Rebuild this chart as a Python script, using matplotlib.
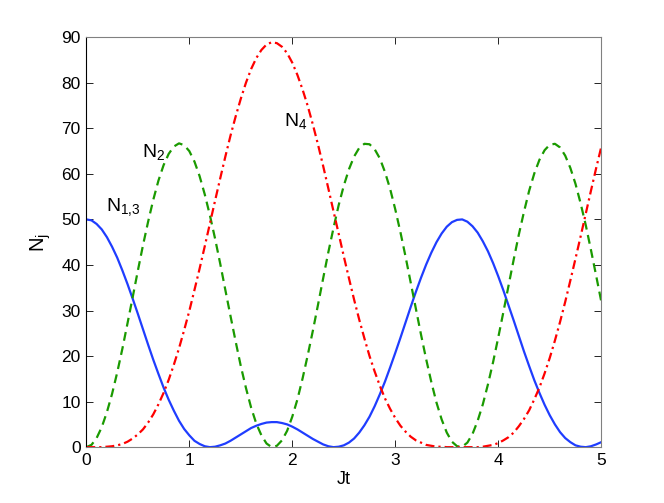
import matplotlib
matplotlib.use("Agg")
import matplotlib.pyplot as plt

plt.rcParams['font.family'] = ['Liberation Sans', 'DejaVu Sans']
plt.rcParams['mathtext.fontset'] = 'custom'
plt.rcParams['mathtext.rm'] = 'Liberation Sans'
plt.rcParams['mathtext.it'] = 'Liberation Sans'

# Jt, step 0.05 from 0 to 5
jt = [round(0.05 * i, 2) for i in range(101)]

n13 = [50.0, 49.8, 49.0, 47.8, 46.1, 44.0, 41.6, 38.8, 35.8, 32.6,
       29.3, 25.9, 22.5, 19.2, 16.1, 13.1, 10.4, 8.0, 5.8, 4.0,
       2.6, 1.4, 0.7, 0.2, 0.0, 0.1, 0.4, 0.8, 1.4, 2.1,
       2.8, 3.5, 4.2, 4.7, 5.1, 5.4, 5.5, 5.5, 5.3, 5.0,
       4.5, 3.9, 3.2, 2.5, 1.8, 1.2, 0.6, 0.2, 0.0, 0.1,
       0.4, 1.0, 1.9, 3.2, 4.8, 6.7, 9.0, 11.6, 14.4, 17.5,
       20.7, 24.0, 27.4, 30.8, 34.1, 37.2, 40.1, 42.7, 45.0, 46.9,
       48.4, 49.4, 49.9, 50.0, 49.5, 48.5, 47.1, 45.2, 43.0, 40.4,
       37.5, 34.4, 31.1, 27.8, 24.4, 21.0, 17.8, 14.7, 11.9, 9.3,
       7.0, 5.0, 3.3, 2.0, 1.1, 0.4, 0.1, 0.0, 0.2, 0.6,
       1.1]

n2 = [0.0, 0.5, 2.0, 4.4, 7.7, 11.7, 16.4, 21.6, 27.2, 32.9,
      38.7, 44.3, 49.5, 54.3, 58.5, 61.9, 64.4, 66.0, 66.7, 66.3,
      65.0, 62.7, 59.5, 55.5, 50.9, 45.8, 40.3, 34.5, 28.8, 23.2,
      17.8, 13.0, 8.7, 5.2, 2.6, 0.8, 0.0, 0.3, 1.5, 3.6,
      6.7, 10.5, 15.1, 20.2, 25.6, 31.3, 37.1, 42.8, 48.1, 53.1,
      57.4, 61.0, 63.8, 65.7, 66.6, 66.5, 65.4, 63.4, 60.4, 56.7,
      52.2, 47.2, 41.8, 36.1, 30.4, 24.7, 19.3, 14.3, 9.8, 6.1,
      3.2, 1.2, 0.2, 0.1, 1.0, 2.9, 5.8, 9.4, 13.8, 18.7,
      24.1, 29.7, 35.5, 41.2, 46.7, 51.7, 56.3, 60.1, 63.1, 65.2,
      66.4, 66.6, 65.8, 64.0, 61.3, 57.8, 53.5, 48.7, 43.3, 37.7,
      32.0]

n4 = [0.0, 0.0, 0.0, 0.0, 0.1, 0.2, 0.4, 0.7, 1.2, 1.9,
      2.8, 3.9, 5.4, 7.2, 9.4, 11.9, 14.8, 18.1, 21.7, 25.7,
      29.9, 34.5, 39.2, 44.1, 49.1, 54.1, 59.0, 63.8, 68.4, 72.6,
      76.5, 80.0, 83.0, 85.4, 87.2, 88.4, 88.9, 88.7, 87.9, 86.5,
      84.4, 81.7, 78.5, 74.9, 70.8, 66.4, 61.7, 56.8, 51.8, 46.9,
      41.9, 37.1, 32.4, 28.0, 23.9, 20.0, 16.6, 13.5, 10.7, 8.4,
      6.4, 4.7, 3.4, 2.3, 1.5, 1.0, 0.5, 0.3, 0.1, 0.1,
      0.0, 0.0, 0.0, 0.0, 0.0, 0.0, 0.0, 0.1, 0.3, 0.5,
      0.9, 1.5, 2.2, 3.2, 4.6, 6.2, 8.1, 10.5, 13.1, 16.2,
      19.6, 23.4, 27.5, 31.9, 36.6, 41.4, 46.3, 51.3, 56.3, 61.2,
      65.9]

fig = plt.figure(figsize=(6.64, 5.03), dpi=100)
ax = fig.add_axes([0.13, 0.111, 0.7755, 0.815])

ax.plot(jt, n13, color='#1f3dff', linewidth=1.6, linestyle='-')
ax.plot(jt, n2, color='#1a9a00', linewidth=1.6, linestyle=(0, (4, 2.5)))
ax.plot(jt, n4, color='#ff0000', linewidth=1.6, linestyle=(0, (4, 1.8, 1, 1.8)))

ax.set_xlim(0, 5)
ax.set_ylim(0, 90)
ax.set_xticks(range(0, 6))
ax.set_yticks(range(0, 91, 10))
ax.tick_params(direction='in', length=5, width=0.6, labelsize=12.5,
               top=True, right=True, pad=4, colors='black')
for side in ['top', 'right', 'bottom']:
    ax.spines[side].set_color('#808080')
ax.spines['left'].set_color('black')
for sp in ax.spines.values():
    sp.set_linewidth(0.8)

ax.set_xlabel('Jt', fontsize=13, labelpad=2)
ax.set_ylabel(r'$\mathrm{N_j}$', fontsize=14.5, labelpad=6)

ax.text(0.19, 51.9, r'$\mathrm{N_{1{,}3}}$', fontsize=14, va='baseline')
ax.text(0.537, 63.6, r'$\mathrm{N_2}$', fontsize=14, va='baseline')
ax.text(1.92, 70.5, r'$\mathrm{N_4}$', fontsize=14, va='baseline')

fig.savefig('out.png', dpi=100, facecolor='white')
